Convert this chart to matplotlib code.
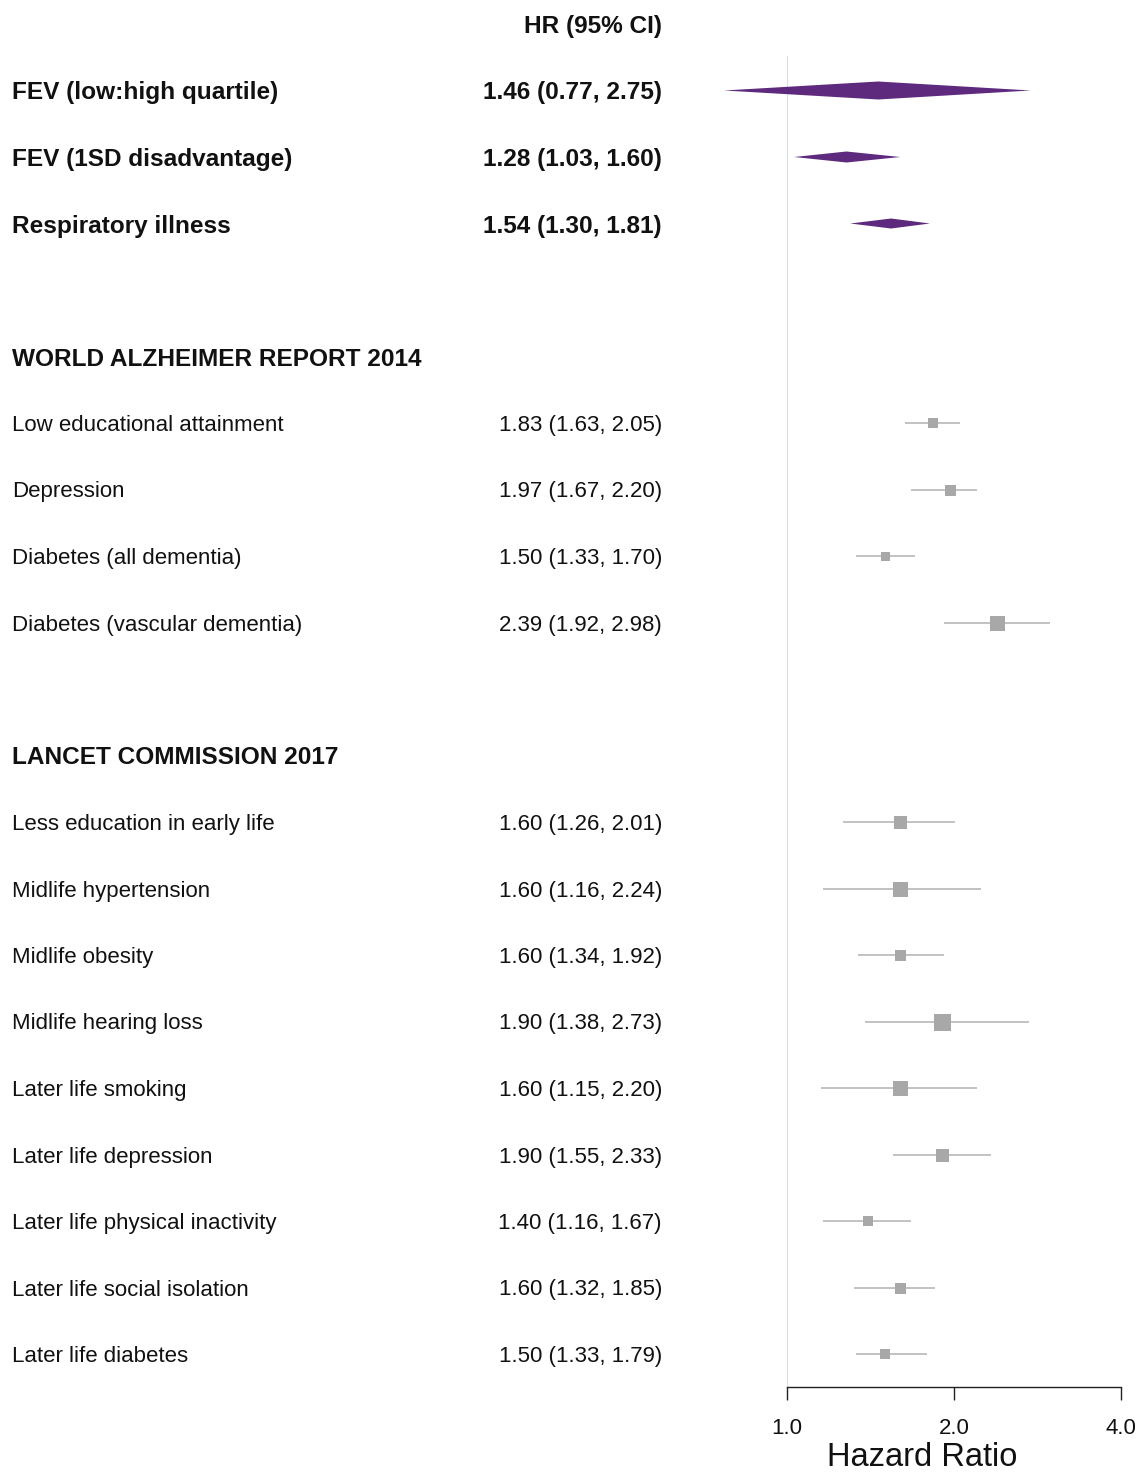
import matplotlib
matplotlib.use("Agg")
import matplotlib.pyplot as plt
import matplotlib.transforms as mtransforms

plt.rcParams['font.family'] = ['Liberation Sans', 'DejaVu Sans']

# Pooled estimates (diamonds)
main_labels = ["FEV (low:high quartile)", "FEV (1SD disadvantage)", "Respiratory illness"]
main_hr = [1.46, 1.28, 1.54]
main_lo = [0.77, 1.03, 1.30]
main_hi = [2.75, 1.60, 1.81]
main_weight = [18, 11, 10]

# World Alzheimer Report 2014
war_title = "WORLD ALZHEIMER REPORT 2014"
war_labels = ["Low educational attainment", "Depression", "Diabetes (all dementia)",
              "Diabetes (vascular dementia)"]
war_hr = [1.83, 1.97, 1.50, 2.39]
war_lo = [1.63, 1.67, 1.33, 1.92]
war_hi = [2.05, 2.20, 1.70, 2.98]
war_weight = [10, 11, 9, 15]

# Lancet Commission 2017
lan_title = "LANCET COMMISSION 2017"
lan_labels = ["Less education in early life", "Midlife hypertension", "Midlife obesity",
              "Midlife hearing loss", "Later life smoking", "Later life depression",
              "Later life physical inactivity", "Later life social isolation",
              "Later life diabetes"]
lan_hr = [1.60, 1.60, 1.60, 1.90, 1.60, 1.90, 1.40, 1.60, 1.50]
lan_lo = [1.26, 1.16, 1.34, 1.38, 1.15, 1.55, 1.16, 1.32, 1.33]
lan_hi = [2.01, 2.24, 1.92, 2.73, 2.20, 2.33, 1.67, 1.85, 1.79]
lan_weight = [13, 15, 11, 17, 15, 13, 10.5, 11, 10.5]

x_ticks = [1.0, 2.0, 4.0]
x_ticklabels = ["1.0", "2.0", "4.0"]

W, H, DPI = 1144, 1474, 100
ROW_PX = 66.5
TOP_PX = 24

PURPLE = "#5e2a7e"
BOX = "#a8a8a8"
CI = "#bdbdbd"
REF = "#d6d6d6"

fig = plt.figure(figsize=(W / DPI, H / DPI), dpi=DPI)
ax_left, ax_right = 787 / W, 1121 / W
ax_bottom = 1 - 1387 / H
ax = fig.add_axes([ax_left, ax_bottom, ax_right - ax_left, 1 - ax_bottom])
ax.set_xscale("log", base=2)
ax.set_xlim(1.0, 4.0)
ax.set_ylim((1387 - TOP_PX) / ROW_PX, -TOP_PX / ROW_PX)

for s in ["top", "right", "left"]:
    ax.spines[s].set_visible(False)
ax.spines["bottom"].set_color("#222222")
ax.spines["bottom"].set_linewidth(1.0)
ax.set_yticks([])
ax.set_xticks(x_ticks)
ax.set_xticklabels(x_ticklabels)
ax.xaxis.set_minor_locator(matplotlib.ticker.NullLocator())
ax.tick_params(axis="x", direction="out", length=9.5, width=1.0, color="#222222",
               labelsize=16, pad=13, labelcolor="#111111")

# reference line at HR = 1
ax.plot([1, 1], [0.5, ax.get_ylim()[0]], color=REF, lw=1.2, zorder=1)

# text sits in figure-x / data-y space, nudged slightly down
trans = mtransforms.blended_transform_factory(fig.transFigure, ax.transData)
trans = mtransforms.offset_copy(trans, fig=fig, y=-2.5, units="dots")
LABEL_X = 12 / W
VALUE_X = 662 / W
TXT = "#111111"
BOLD_SIZE = 17.6
REG_SIZE = 16

def fmt(hr, lo, hi):
    return f"{hr:.2f} ({lo:.2f}, {hi:.2f})"

ax.text(VALUE_X, 0, "HR (95% CI)", transform=trans, ha="right", va="center",
        fontsize=BOLD_SIZE, fontweight="bold", color=TXT)

# pooled rows
row = 1
for lab, hr, lo, hi, wgt in zip(main_labels, main_hr, main_lo, main_hi, main_weight):
    ax.text(LABEL_X, row, lab, transform=trans, ha="left", va="center",
            fontsize=BOLD_SIZE, fontweight="bold", color=TXT)
    ax.text(VALUE_X, row, fmt(hr, lo, hi), transform=trans, ha="right", va="center",
            fontsize=BOLD_SIZE, fontweight="bold", color=TXT)
    h = wgt / ROW_PX / 2
    ax.fill([lo, hr, hi, hr], [row, row - h, row, row + h], color=PURPLE,
            lw=0, clip_on=False, zorder=3)
    row += 1

def draw_group(title, start, labels, hrs, los, his, wgts):
    ax.text(LABEL_X, start, title, transform=trans, ha="left", va="center",
            fontsize=BOLD_SIZE, fontweight="bold", color=TXT)
    r = start + 1
    for lab, hr, lo, hi, wgt in zip(labels, hrs, los, his, wgts):
        ax.text(LABEL_X, r, lab, transform=trans, ha="left", va="center",
                fontsize=REG_SIZE, color=TXT)
        ax.text(VALUE_X, r, fmt(hr, lo, hi), transform=trans, ha="right", va="center",
                fontsize=REG_SIZE, color=TXT)
        ax.plot([lo, hi], [r, r], color=CI, lw=1.3, solid_capstyle="butt", zorder=2,
                clip_on=False)
        ax.plot([hr], [r], marker="s", ms=wgt * 72 / DPI, color=BOX, mec=BOX, mew=0,
                zorder=3, clip_on=False)
        r += 1
    return r

draw_group(war_title, 5, war_labels, war_hr, war_lo, war_hi, war_weight)
draw_group(lan_title, 11, lan_labels, lan_hr, lan_lo, lan_hi, lan_weight)

fig.text(922 / W, 1 - 1458 / H, "Hazard Ratio", ha="center", va="center",
         fontsize=23.5, color=TXT)

fig.savefig("out.png", dpi=DPI, facecolor="white")
